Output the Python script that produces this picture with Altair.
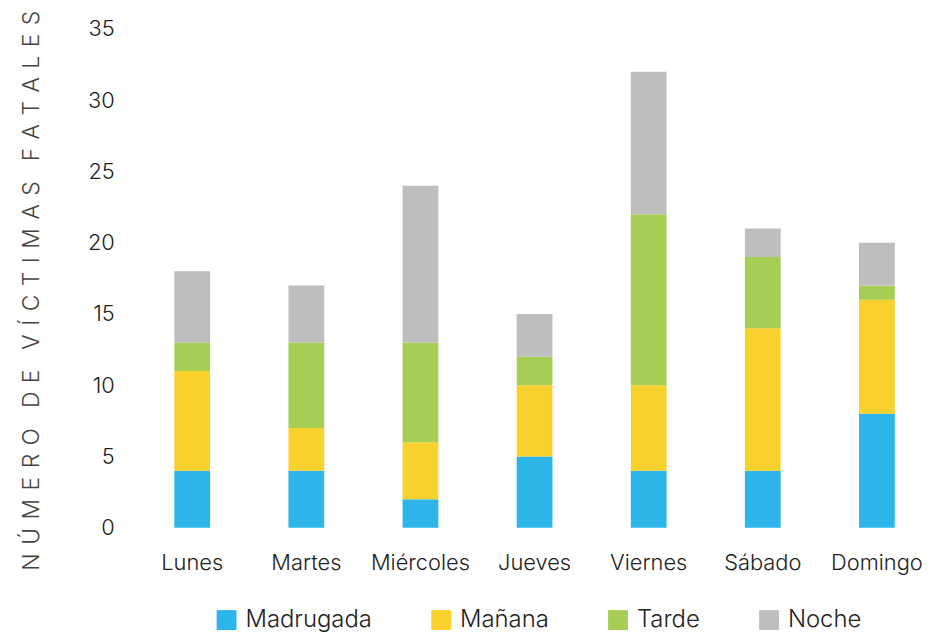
import altair as alt
import pandas as pd

days = ["Lunes", "Martes", "Miércoles", "Jueves", "Viernes", "Sábado", "Domingo"]
periods = ["Madrugada", "Mañana", "Tarde", "Noche"]
madrugada = [4, 4, 2, 5, 4, 4, 8]
manana = [7, 3, 4, 5, 6, 10, 8]
tarde = [2, 6, 7, 2, 12, 5, 1]
noche = [5, 4, 11, 3, 10, 2, 3]
colors = ["#2DB5EA", "#F8D12C", "#A6CE55", "#BEBEBE"]

rows = []
for series, name in zip([madrugada, manana, tarde, noche], periods):
    for d, v in zip(days, series):
        rows.append({"dia": d, "periodo": name, "valor": v, "orden": periods.index(name)})
df = pd.DataFrame(rows)

FONT = "Inter"
SEP = "\u200a "
words = ["NÚMERO", "DE", "VÍCTIMAS", "FATALES"]
ytitle = ("\u2002" + SEP).join(SEP.join(w) for w in words)

chart = alt.Chart(df).mark_bar(size=36).encode(
    x=alt.X("dia:N", sort=days, scale=alt.Scale(range=[0, 804], paddingInner=0, paddingOuter=0),
            axis=alt.Axis(title=None, labelAngle=0, ticks=False, domain=False, labelPadding=25,
                          labelFontSize=22, labelColor="#222222", labelFont=FONT, labelFontWeight=300)),
    y=alt.Y("valor:Q", stack="zero", scale=alt.Scale(domain=[0, 35]),
            axis=alt.Axis(values=[0, 5, 10, 15, 20, 25, 30, 35], grid=False, ticks=False, domain=False,
                          labelPadding=21, labelFontSize=22, labelColor="#222222", labelFont=FONT,
                          labelFontWeight=300,
                          title=ytitle, titleFont=FONT, titleFontSize=23, titleFontWeight=300,
                          titleColor="#444444", titleAngle=-90, titleX=-104, titleY=263,
                          titleAlign="center", titleBaseline="middle")),
    color=alt.Color("periodo:N", sort=periods, scale=alt.Scale(domain=periods, range=colors),
                    legend=alt.Legend(title=None, orient="none", direction="horizontal",
                                      legendX=80, legendY=583, symbolType="square", symbolSize=400,
                                      symbolStrokeWidth=0, labelFontSize=24, labelFont=FONT,
                                      labelFontWeight=300,
                                      labelColor="#222222", labelOffset=7, columnPadding=57)),
    order=alt.Order("orden:Q"),
).properties(
    width=797, height=502,
    autosize=alt.AutoSizeParams(type="none"),
    padding={"left": 128, "top": 19, "right": 0, "bottom": 105},
).configure_view(stroke=None)

chart.save("out.html", embed_options={"renderer": "svg", "actions": False})
